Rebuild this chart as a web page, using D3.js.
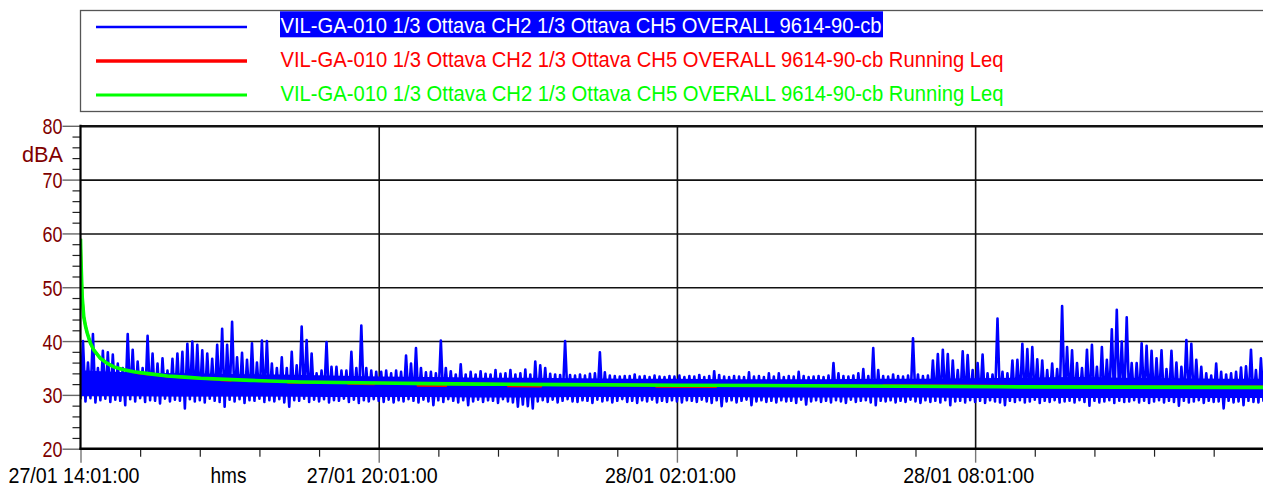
<!DOCTYPE html>
<html><head><meta charset="utf-8">
<script src="https://cdn.jsdelivr.net/npm/d3@7"></script>
<style>
html,body{margin:0;padding:0;background:#fff;overflow:hidden}
svg{display:block}
text{font-family:"Liberation Sans Narrow","Arial Narrow","Liberation Sans",Arial,sans-serif}
</style></head><body>
<svg id="c" width="1263" height="488"></svg>
<script>
// ---------------- data ----------------
const legendLabels = [
  "VIL-GA-010 1/3 Ottava CH2 1/3 Ottava CH5 OVERALL 9614-90-cb",
  "VIL-GA-010 1/3 Ottava CH2 1/3 Ottava CH5 OVERALL 9614-90-cb Running Leq",
  "VIL-GA-010 1/3 Ottava CH2 1/3 Ottava CH5 OVERALL 9614-90-cb Running Leq"
];
const seriesColors = ["#0000ff", "#ff0000", "#00ff00"];
const yTicks = [20, 30, 40, 50, 60, 70, 80];
const yUnit = "dBA";
const xUnit = "hms";
const xTickHours = [0, 6, 12, 18];
const xTickLabels = ["27/01 14:01:00", "27/01 20:01:00", "28/01 02:01:00", "28/01 08:01:00"];
const binMinutes = 6; // each bin: min / max of the overall level
const blueMax = [
  40,36,41.3,35,38.2,37.9,37.5,35.8,35,41.3,38.4,36.2,35,41.0,37.7,35.8,36.8,34.5,36.7,37.7,
  38,39.5,39.9,39.3,38.3,37.7,36.7,39.3,42.3,39.3,43.6,37,37.8,36.5,39.6,36,40.1,40.0,35.8,35,
  37,35,38,35.5,42.7,40.2,37.7,34,34.5,39.8,35.2,35.2,34.5,34.5,38,35,42.9,35,34.5,34.3,
  34.3,34.5,34,34.5,34.3,37.3,35.8,38.7,35,34.2,34.3,34,40.1,35,34.4,33.8,35.7,33.8,34.3,33.8,
  34.4,33.9,33.8,34.6,33.9,34,34.6,33.8,34,34.7,33.8,36.2,35.5,35,33.9,33.8,33.7,40,33.7,33.6,
  33.8,33.6,33.9,34,37.9,34.2,33.6,33.5,33.4,33.5,33.5,33.8,33.4,33.5,33.3,33.6,33.4,33.3,33.5,33.4,
  33.6,33.3,33.5,33.4,33.7,33.3,33.5,34.4,33.7,33.4,33.3,33.5,33.4,33.3,34.2,33.4,33.5,33.3,34,33.4,
  34,33.3,33.5,33.4,34.3,33.5,33.3,33.4,33.5,33.3,33.6,35.9,34,33.5,33.4,33.6,34,34.8,33.5,38.7,
  34.6,33.5,33.4,33.8,33.5,33.4,33.6,40.5,33.8,33.5,33.6,36.4,37.6,38.4,37.6,36.4,34.6,38.1,37.4,34.6,
  35.9,37.5,34,33.8,44.2,34.3,34,36.4,36.5,39.5,38.5,38.9,36.6,36.4,34.6,35.8,34.8,46.5,38.9,38.3,
  35.9,35,38.4,39.3,35.2,38.9,36.5,42.2,45.8,39.9,44.4,35.9,35.9,39.6,39.1,38.2,36.8,38.3,34.8,38.2,
  36,35.2,40.2,39.5,36.5,35.2,34,33.6,35.8,34.3,33.8,34,34.3,35.1,35.3,38.4,34.6,36.8,35.9
];
const blueMin = [
  29.2,28.8,29.4,28.6,29.0,29.3,28.7,29.1,28.9,28.1,29.2,28.8,29.4,28.7,29.0,28.9,28.4,29.3,28.8,29.1,
  28.9,27.5,29.2,28.8,29.0,28.6,29.3,28.9,28.7,27.8,29.1,28.8,29.2,28.5,29.0,28.9,29.3,28.7,29.0,28.8,
  29.2,28.6,27.8,29.0,28.9,29.3,28.7,29.1,28.8,29.2,28.6,29.0,28.9,29.3,28.7,29.1,28.5,29.0,28.8,29.2,
  28.9,28.7,29.1,28.6,29.0,28.8,29.2,28.9,28.6,29.1,28.8,28.1,29.0,28.7,29.2,28.9,28.6,29.0,28.1,28.8,
  29.1,28.7,29.0,28.9,28.5,29.2,28.8,28.6,27.8,28.2,27.9,27.5,28.8,29.0,28.7,29.1,28.6,28.9,29.2,28.8,
  28.7,29.0,28.9,28.5,29.1,28.8,29.0,28.6,28.9,29.2,28.7,28.9,28.5,29.0,28.8,29.1,28.6,28.9,28.7,29.0,
  28.8,28.6,29.0,28.9,28.7,29.1,28.8,28.5,29.0,27.9,28.8,29.0,28.6,28.9,29.1,28.1,28.8,29.0,28.7,28.9,
  28.6,29.0,28.8,28.9,28.5,29.1,28.2,28.8,29.0,28.7,28.9,28.6,29.0,28.8,28.5,29.1,28.7,28.9,29.0,28.6,
  28.1,28.9,28.8,29.0,28.6,28.9,28.7,29.1,28.8,28.5,29.0,28.7,28.9,28.6,29.0,28.1,28.8,28.9,28.6,29.0,
  28.7,28.9,28.5,29.0,28.8,28.6,28.1,28.9,28.7,29.0,28.6,28.8,29.1,28.5,28.9,28.7,29.0,28.6,28.8,28.9,
  28.6,29.0,28.7,28.0,28.9,28.6,28.8,29.0,28.5,28.9,28.7,28.8,29.0,28.6,28.9,28.5,28.8,29.0,28.6,28.9,
  28.7,28.0,28.9,28.6,28.8,29.0,28.5,28.9,28.7,28.8,27.5,28.9,28.6,28.8,28.1,28.9,28.7,28.6,28.9
];
// solid core of the dense trace, read hourly (upper and lower edge, dB)
const bandHours = [0,1,2,3,4,5,6,7,8,9,10,11,12,13,14,15,16,17,18,19,20,21,22,23,23.8];
const bandHigh  = [34.6,34.2,34.0,33.9,33.8,33.6,33.4,33.3,33.2,33.2,33.1,33.0,33.0,32.9,32.9,32.9,33.0,33.0,33.1,33.2,33.3,33.2,33.1,33.0,33.0];
const bandLow   = [29.8,29.8,29.7,29.7,29.7,29.6,29.6,29.6,29.5,29.5,29.6,29.6,29.6,29.6,29.5,29.5,29.5,29.5,29.4,29.4,29.4,29.4,29.4,29.4,29.4];
// running Leq (hours from start, dB)
const greenHours = [0,0.01,0.02,0.034,0.066,0.1,0.135,0.2,0.27,0.4,0.53,0.67,0.85,1.07,1.4,1.75,2.1,2.42,3.42,4.43,5.2,6.04,7,8.05,9.66,12.08,14.5,16.5,18.5,21,23.8];
const greenLeq   = [59,55,52,48.2,44.5,42.8,41.5,39.6,38.3,36.8,35.9,35.2,34.7,34.3,33.9,33.5,33.3,33.1,32.7,32.4,32.3,32.2,32.1,32.0,31.9,31.8,31.7,31.6,31.5,31.45,31.4];
const redHours = [0,0.01,0.02,0.034,0.066,0.1,0.135,0.2,0.27,0.4,0.53,0.67,0.85,1.07,1.15,1.35,1.45,1.75,2.42,2.82,2.83,3.02,3.03,3.42,4.17,4.18,4.69,4.7,5.38,5.39,5.9,5.91,6.04,6.78,6.79,7.35,7.36,8.05,8.6,8.61,9.26,9.27,9.66,11.58,11.59,12.78,12.79,14.5,16.15,16.16,18.5,23.8];
const redLeq   = [59,55,52,48.2,44.5,42.8,41.5,39.6,38.3,36.8,35.9,35.2,34.7,34.3,34.05,33.85,33.85,33.45,33.05,32.85,32.75,32.7,32.8,32.65,32.45,32.3,32.25,32.38,32.28,32.1,32.05,32.22,32.18,32.1,31.75,31.7,32.05,32.0,31.98,31.65,31.6,31.92,31.9,31.82,31.55,31.5,31.78,31.7,31.62,31.72,31.62,31.52];

// ---------------- layout ----------------
const W = 1263, H = 488;
const m = {left: 80.5, right: 1263.4, top: 125.8, bottom: 448.7};
const HOUR = 3600e3;
const t0 = Date.UTC(2000, 0, 27, 14, 1, 0);
const tAt = h => new Date(t0 + h * HOUR);
const x = d3.scaleUtc().domain([tAt(0), tAt(23.8)]).range([m.left, m.right]);
const y = d3.scaleLinear().domain([20, 80]).range([m.bottom, m.top]);
const maroon = "#800000";

const svg = d3.select("#c");
svg.append("rect").attr("width", W).attr("height", H).attr("fill", "#fff");

svg.append("clipPath").attr("id", "plot").append("rect")
  .attr("x", m.left).attr("y", m.top - 2).attr("width", W - m.left).attr("height", m.bottom - m.top + 2);

// horizontal grid
const gH = svg.append("g").attr("transform", `translate(${m.left},0)`)
  .call(d3.axisLeft(y).tickValues(yTicks.slice(1)).tickSize(-(W - m.left + 5)).tickFormat(""));
gH.select(".domain").remove();
gH.selectAll("line").attr("stroke", "#111").attr("stroke-width", d => d === 80 ? 2.4 : 1.6);

// vertical grid
const gV = svg.append("g").attr("transform", `translate(0,${m.bottom})`)
  .call(d3.axisBottom(x).tickValues(xTickHours.slice(1).map(tAt)).tickSize(-(m.bottom - m.top)).tickFormat(""));
gV.select(".domain").remove();
gV.selectAll("line").attr("stroke", "#111").attr("stroke-width", 1.6);

// ---------------- series ----------------
const plot = svg.append("g").attr("clip-path", "url(#plot)");
plot.append("path")
  .datum(bandHours.map((h, i) => [tAt(h), bandLow[i], bandHigh[i]]))
  .attr("d", d3.area().x(d => x(d[0])).y0(d => y(d[1])).y1(d => y(d[2])).curve(d3.curveMonotoneX))
  .attr("fill", seriesColors[0]);
const bluePts = [];
blueMax.forEach((v, i) => {
  bluePts.push([tAt(i * binMinutes / 60), blueMin[i]]);
  bluePts.push([tAt((i + 0.5) * binMinutes / 60), v]);
});
const line = d3.line().x(d => x(d[0])).y(d => y(d[1]));
plot.append("path").datum(bluePts).attr("d", line)
  .attr("fill", "none").attr("stroke", seriesColors[0]).attr("stroke-width", 2.6)
  .attr("stroke-linejoin", "round");
plot.append("path").datum(redHours.map((h, i) => [tAt(h), redLeq[i]])).attr("d", line)
  .attr("fill", "none").attr("stroke", seriesColors[1]).attr("stroke-width", 2.6);
plot.append("path").datum(greenHours.map((h, i) => [tAt(h), greenLeq[i]])).attr("d", line)
  .attr("fill", "none").attr("stroke", seriesColors[2]).attr("stroke-width", 3.6)
  .attr("stroke-linejoin", "round");

// ---------------- axes ----------------
const yMinor = d3.range(20, 81, 2).filter(v => v % 10 !== 0);
svg.append("g").attr("transform", `translate(${m.left},0)`)
  .call(d3.axisLeft(y).tickValues(yMinor).tickSize(8).tickFormat(""))
  .call(g => g.select(".domain").remove())
  .selectAll("line").attr("stroke", "#222").attr("stroke-width", 1.2);
const gY = svg.append("g").attr("transform", `translate(${m.left},0)`)
  .call(d3.axisLeft(y).tickValues(yTicks).tickSize(18).tickPadding(0).tickFormat(d3.format("d")));
gY.select(".domain").remove();
gY.selectAll("line").attr("stroke", "#666").attr("stroke-width", 1.4);
gY.selectAll("text").attr("x", -18).attr("dy", null).attr("y", 8)
  .attr("fill", maroon).attr("font-size", 22.5).attr("font-family", null)
  .attr("textLength", 20).attr("lengthAdjust", "spacingAndGlyphs");
svg.append("text").attr("x", 63).attr("y", 162).attr("text-anchor", "end")
  .attr("fill", maroon).attr("font-size", 22.5).attr("textLength", 41).attr("lengthAdjust", "spacingAndGlyphs")
  .text(yUnit);
svg.append("line").attr("x1", m.left).attr("x2", m.left).attr("y1", m.top - 1).attr("y2", m.bottom + 1)
  .attr("stroke", "#000").attr("stroke-width", 2.2);

const xMinor = d3.range(0, 23.8, 1.2).filter(h => Math.abs(h / 6 - Math.round(h / 6)) > 1e-6).map(tAt);
svg.append("g").attr("transform", `translate(0,${m.bottom})`)
  .call(d3.axisBottom(x).tickValues(xMinor).tickSize(8).tickFormat(""))
  .call(g => g.select(".domain").remove())
  .selectAll("line").attr("stroke", "#222").attr("stroke-width", 1.2);
const gX = svg.append("g").attr("transform", `translate(0,${m.bottom})`)
  .call(d3.axisBottom(x).tickValues(xTickHours.map(tAt)).tickSize(14).tickFormat((d, i) => xTickLabels[i]));
gX.select(".domain").remove();
gX.selectAll("line").attr("stroke", "#777").attr("stroke-width", 1.4);
gX.selectAll("text").attr("y", 34.5).attr("dy", null).attr("dx", -7)
  .attr("fill", "#000").attr("font-size", 21.5).attr("font-family", null)
  .attr("textLength", 131).attr("lengthAdjust", "spacingAndGlyphs");
svg.append("text").attr("x", 228.5).attr("y", m.bottom + 34.5).attr("text-anchor", "middle")
  .attr("font-size", 21.5).attr("textLength", 36).attr("lengthAdjust", "spacingAndGlyphs").text(xUnit);
svg.append("line").attr("x1", m.left - 1).attr("x2", W).attr("y1", m.bottom).attr("y2", m.bottom)
  .attr("stroke", "#000").attr("stroke-width", 2.4);

// ---------------- legend ----------------
const lg = svg.append("g");
lg.append("rect").attr("x", 80.5).attr("y", 10.5).attr("width", W).attr("height", 101)
  .attr("fill", "#fff").attr("stroke", "#555").attr("stroke-width", 1.3);
const rowY = [27, 61, 95];
const lineW = [2.5, 3.6, 3];
const textW = [601, 723, 723];
lg.append("rect").attr("x", 280).attr("y", 11.3).attr("width", 603).attr("height", 26).attr("fill", seriesColors[0]);
legendLabels.forEach((lab, i) => {
  lg.append("line").attr("x1", 96).attr("x2", 247).attr("y1", rowY[i]).attr("y2", rowY[i])
    .attr("stroke", seriesColors[i]).attr("stroke-width", lineW[i]);
  lg.append("text").attr("x", 280.5).attr("y", rowY[i] + 6.3)
    .attr("font-size", 22.5).attr("fill", i === 0 ? "#fff" : seriesColors[i])
    .attr("textLength", textW[i]).attr("lengthAdjust", "spacingAndGlyphs").text(lab);
});
</script>
</body></html>
